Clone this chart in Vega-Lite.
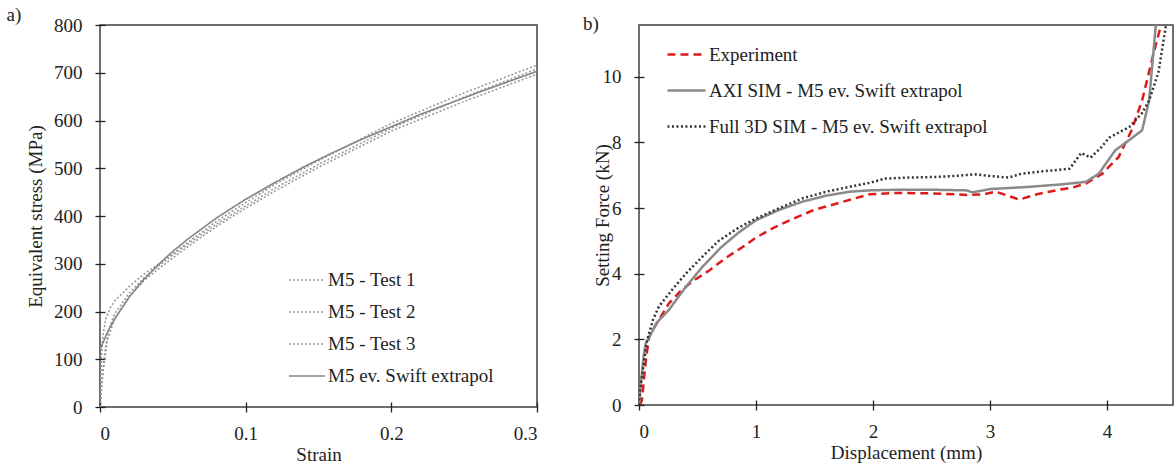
{
  "$schema": "https://vega.github.io/schema/vega-lite/v6.json",
  "background": "white",
  "padding": {"left": 5, "top": 5, "right": 0, "bottom": 0},
  "spacing": 43,
  "config": {
    "font": "Liberation Serif",
    "view": {"stroke": "#404040", "strokeWidth": 1.5},
    "axis": {
      "labelFont": "Liberation Serif", "titleFont": "Liberation Serif",
      "labelFontSize": 19, "titleFontSize": 19, "titleFontWeight": "normal",
      "labelColor": "#222", "titleColor": "#222", "domain": false, "grid": false,
      "tickColor": "#222", "tickSize": 10, "tickWidth": 1.3, "labelPadding": 13
    },
    "axisX": {"labelPadding": 12, "titlePadding": 2},
    "legend": {"labelFont": "Liberation Serif", "labelFontSize": 19, "labelColor": "#222", "labelLimit": 500},
    "title": {"font": "Liberation Serif", "fontSize": 19, "fontWeight": "normal", "anchor": "start", "color": "#222"}
  },
  "resolve": {
    "scale": {"color": "independent", "strokeDash": "independent", "strokeWidth": "independent"},
    "legend": {"color": "independent", "strokeDash": "independent", "strokeWidth": "independent"}
  },
  "hconcat": [
    {
      "title": {"text": "a)", "frame": "bounds", "dx": -20, "offset": -9},
      "width": 437,
      "height": 382,
      "data": {"values": [
        {"series": "M5 - Test 1", "x": 0, "y": 0},
        {"series": "M5 - Test 1", "x": 0.001, "y": 100},
        {"series": "M5 - Test 1", "x": 0.002, "y": 150},
        {"series": "M5 - Test 1", "x": 0.004, "y": 185},
        {"series": "M5 - Test 1", "x": 0.007, "y": 207},
        {"series": "M5 - Test 1", "x": 0.01, "y": 222},
        {"series": "M5 - Test 1", "x": 0.015, "y": 237},
        {"series": "M5 - Test 1", "x": 0.02, "y": 252},
        {"series": "M5 - Test 1", "x": 0.03, "y": 278},
        {"series": "M5 - Test 1", "x": 0.04, "y": 299},
        {"series": "M5 - Test 1", "x": 0.05, "y": 321},
        {"series": "M5 - Test 1", "x": 0.06, "y": 344},
        {"series": "M5 - Test 1", "x": 0.08, "y": 389},
        {"series": "M5 - Test 1", "x": 0.1, "y": 428},
        {"series": "M5 - Test 1", "x": 0.12, "y": 466},
        {"series": "M5 - Test 1", "x": 0.15, "y": 516},
        {"series": "M5 - Test 1", "x": 0.2, "y": 594},
        {"series": "M5 - Test 1", "x": 0.25, "y": 658},
        {"series": "M5 - Test 1", "x": 0.3, "y": 716},
        {"series": "M5 - Test 2", "x": 0, "y": 0},
        {"series": "M5 - Test 2", "x": 0.002, "y": 80},
        {"series": "M5 - Test 2", "x": 0.004, "y": 130},
        {"series": "M5 - Test 2", "x": 0.006, "y": 163},
        {"series": "M5 - Test 2", "x": 0.01, "y": 195},
        {"series": "M5 - Test 2", "x": 0.02, "y": 238},
        {"series": "M5 - Test 2", "x": 0.03, "y": 270},
        {"series": "M5 - Test 2", "x": 0.04, "y": 295},
        {"series": "M5 - Test 2", "x": 0.05, "y": 318},
        {"series": "M5 - Test 2", "x": 0.06, "y": 340},
        {"series": "M5 - Test 2", "x": 0.08, "y": 383},
        {"series": "M5 - Test 2", "x": 0.1, "y": 421},
        {"series": "M5 - Test 2", "x": 0.12, "y": 458},
        {"series": "M5 - Test 2", "x": 0.15, "y": 508},
        {"series": "M5 - Test 2", "x": 0.2, "y": 584},
        {"series": "M5 - Test 2", "x": 0.25, "y": 649},
        {"series": "M5 - Test 2", "x": 0.3, "y": 708},
        {"series": "M5 - Test 3", "x": 0, "y": 0},
        {"series": "M5 - Test 3", "x": 0.002, "y": 70},
        {"series": "M5 - Test 3", "x": 0.005, "y": 140},
        {"series": "M5 - Test 3", "x": 0.01, "y": 184},
        {"series": "M5 - Test 3", "x": 0.02, "y": 231},
        {"series": "M5 - Test 3", "x": 0.03, "y": 264},
        {"series": "M5 - Test 3", "x": 0.04, "y": 289},
        {"series": "M5 - Test 3", "x": 0.05, "y": 312},
        {"series": "M5 - Test 3", "x": 0.06, "y": 335},
        {"series": "M5 - Test 3", "x": 0.08, "y": 378},
        {"series": "M5 - Test 3", "x": 0.1, "y": 416},
        {"series": "M5 - Test 3", "x": 0.12, "y": 452},
        {"series": "M5 - Test 3", "x": 0.15, "y": 502},
        {"series": "M5 - Test 3", "x": 0.2, "y": 578},
        {"series": "M5 - Test 3", "x": 0.25, "y": 640},
        {"series": "M5 - Test 3", "x": 0.3, "y": 697},
        {"series": "M5 ev. Swift extrapol", "x": 0, "y": 120},
        {"series": "M5 ev. Swift extrapol", "x": 0.005, "y": 156},
        {"series": "M5 ev. Swift extrapol", "x": 0.01, "y": 184},
        {"series": "M5 ev. Swift extrapol", "x": 0.02, "y": 230},
        {"series": "M5 ev. Swift extrapol", "x": 0.03, "y": 267},
        {"series": "M5 ev. Swift extrapol", "x": 0.04, "y": 298},
        {"series": "M5 ev. Swift extrapol", "x": 0.05, "y": 326},
        {"series": "M5 ev. Swift extrapol", "x": 0.06, "y": 351},
        {"series": "M5 ev. Swift extrapol", "x": 0.08, "y": 396},
        {"series": "M5 ev. Swift extrapol", "x": 0.1, "y": 435},
        {"series": "M5 ev. Swift extrapol", "x": 0.12, "y": 470},
        {"series": "M5 ev. Swift extrapol", "x": 0.14, "y": 503},
        {"series": "M5 ev. Swift extrapol", "x": 0.16, "y": 533},
        {"series": "M5 ev. Swift extrapol", "x": 0.18, "y": 561},
        {"series": "M5 ev. Swift extrapol", "x": 0.2, "y": 587},
        {"series": "M5 ev. Swift extrapol", "x": 0.22, "y": 613},
        {"series": "M5 ev. Swift extrapol", "x": 0.24, "y": 636},
        {"series": "M5 ev. Swift extrapol", "x": 0.26, "y": 659},
        {"series": "M5 ev. Swift extrapol", "x": 0.28, "y": 681},
        {"series": "M5 ev. Swift extrapol", "x": 0.3, "y": 703}
      ]},
      "mark": {"type": "line", "clip": true},
      "encoding": {
        "x": {"field": "x", "type": "quantitative", "scale": {"domain": [0, 0.3], "nice": false},
              "axis": {"title": "Strain", "values": [0, 0.1, 0.2, 0.3], "format": "~g", "offset": -5}},
        "y": {"field": "y", "type": "quantitative", "scale": {"domain": [0, 800], "nice": false},
              "axis": {"title": "Equivalent stress (MPa)", "values": [0, 100, 200, 300, 400, 500, 600, 700, 800], "offset": -5, "titlePadding": 8}},
        "color": {"field": "series", "type": "nominal",
                  "scale": {"domain": ["M5 - Test 1", "M5 - Test 2", "M5 - Test 3", "M5 ev. Swift extrapol"], "range": ["#9a9a9a", "#9a9a9a", "#9a9a9a", "#858585"]},
                  "legend": {"title": null, "orient": "none", "legendX": 188, "legendY": 236, "symbolType": "stroke", "symbolSize": 1300, "rowPadding": 3, "labelOffset": 2}},
        "strokeDash": {"field": "series", "type": "nominal",
                  "scale": {"domain": ["M5 - Test 1", "M5 - Test 2", "M5 - Test 3", "M5 ev. Swift extrapol"], "range": [[2, 2], [2, 2], [2, 2], [1, 0]]},
                  "legend": {"title": null, "orient": "none", "legendX": 188, "legendY": 236, "symbolType": "stroke", "symbolSize": 1300, "rowPadding": 3, "labelOffset": 2}},
        "strokeWidth": {"field": "series", "type": "nominal",
                  "scale": {"domain": ["M5 - Test 1", "M5 - Test 2", "M5 - Test 3", "M5 ev. Swift extrapol"], "range": [1.6, 1.6, 1.6, 3]},
                  "legend": {"title": null, "orient": "none", "legendX": 188, "legendY": 236, "symbolType": "stroke", "symbolSize": 1300, "rowPadding": 3, "labelOffset": 2}}
      }
    },
    {
      "title": {"text": "b)", "frame": "bounds", "dx": -10, "offset": -9},
      "width": 534,
      "height": 380,
      "data": {"values": [
        {"series": "Experiment", "x": 0.01, "y": 0},
        {"series": "Experiment", "x": 0.025, "y": 0.15},
        {"series": "Experiment", "x": 0.04, "y": 0.7},
        {"series": "Experiment", "x": 0.06, "y": 1.4},
        {"series": "Experiment", "x": 0.085, "y": 2.05},
        {"series": "Experiment", "x": 0.12, "y": 2.3},
        {"series": "Experiment", "x": 0.18, "y": 2.65},
        {"series": "Experiment", "x": 0.256, "y": 3.1},
        {"series": "Experiment", "x": 0.35, "y": 3.45},
        {"series": "Experiment", "x": 0.45, "y": 3.75},
        {"series": "Experiment", "x": 0.6, "y": 4.1},
        {"series": "Experiment", "x": 0.75, "y": 4.5},
        {"series": "Experiment", "x": 0.9, "y": 4.85},
        {"series": "Experiment", "x": 1.0, "y": 5.1},
        {"series": "Experiment", "x": 1.15, "y": 5.4},
        {"series": "Experiment", "x": 1.3, "y": 5.65},
        {"series": "Experiment", "x": 1.5, "y": 5.95},
        {"series": "Experiment", "x": 1.7, "y": 6.15},
        {"series": "Experiment", "x": 1.97, "y": 6.42},
        {"series": "Experiment", "x": 2.2, "y": 6.46},
        {"series": "Experiment", "x": 2.5, "y": 6.45},
        {"series": "Experiment", "x": 2.82, "y": 6.4},
        {"series": "Experiment", "x": 2.95, "y": 6.42},
        {"series": "Experiment", "x": 3.05, "y": 6.5},
        {"series": "Experiment", "x": 3.15, "y": 6.38},
        {"series": "Experiment", "x": 3.25, "y": 6.26},
        {"series": "Experiment", "x": 3.4, "y": 6.42},
        {"series": "Experiment", "x": 3.56, "y": 6.54},
        {"series": "Experiment", "x": 3.7, "y": 6.62},
        {"series": "Experiment", "x": 3.82, "y": 6.75},
        {"series": "Experiment", "x": 3.96, "y": 7.05},
        {"series": "Experiment", "x": 4.1, "y": 7.56},
        {"series": "Experiment", "x": 4.21, "y": 8.37},
        {"series": "Experiment", "x": 4.3, "y": 9.28},
        {"series": "Experiment", "x": 4.39, "y": 10.6},
        {"series": "Experiment", "x": 4.47, "y": 11.7},
        {"series": "AXI SIM - M5 ev. Swift extrapol", "x": 0, "y": 0},
        {"series": "AXI SIM - M5 ev. Swift extrapol", "x": 0.02, "y": 0.8},
        {"series": "AXI SIM - M5 ev. Swift extrapol", "x": 0.04, "y": 1.5},
        {"series": "AXI SIM - M5 ev. Swift extrapol", "x": 0.057, "y": 1.88},
        {"series": "AXI SIM - M5 ev. Swift extrapol", "x": 0.085, "y": 2.05},
        {"series": "AXI SIM - M5 ev. Swift extrapol", "x": 0.15, "y": 2.5},
        {"series": "AXI SIM - M5 ev. Swift extrapol", "x": 0.256, "y": 2.9},
        {"series": "AXI SIM - M5 ev. Swift extrapol", "x": 0.4, "y": 3.6},
        {"series": "AXI SIM - M5 ev. Swift extrapol", "x": 0.54, "y": 4.2},
        {"series": "AXI SIM - M5 ev. Swift extrapol", "x": 0.7, "y": 4.8},
        {"series": "AXI SIM - M5 ev. Swift extrapol", "x": 0.85, "y": 5.25},
        {"series": "AXI SIM - M5 ev. Swift extrapol", "x": 1.0, "y": 5.63},
        {"series": "AXI SIM - M5 ev. Swift extrapol", "x": 1.2, "y": 5.95},
        {"series": "AXI SIM - M5 ev. Swift extrapol", "x": 1.4, "y": 6.2},
        {"series": "AXI SIM - M5 ev. Swift extrapol", "x": 1.6, "y": 6.38},
        {"series": "AXI SIM - M5 ev. Swift extrapol", "x": 1.8, "y": 6.5},
        {"series": "AXI SIM - M5 ev. Swift extrapol", "x": 1.97, "y": 6.54},
        {"series": "AXI SIM - M5 ev. Swift extrapol", "x": 2.2, "y": 6.56},
        {"series": "AXI SIM - M5 ev. Swift extrapol", "x": 2.5, "y": 6.56},
        {"series": "AXI SIM - M5 ev. Swift extrapol", "x": 2.8, "y": 6.54},
        {"series": "AXI SIM - M5 ev. Swift extrapol", "x": 2.85, "y": 6.48},
        {"series": "AXI SIM - M5 ev. Swift extrapol", "x": 3.0, "y": 6.58},
        {"series": "AXI SIM - M5 ev. Swift extrapol", "x": 3.3, "y": 6.64},
        {"series": "AXI SIM - M5 ev. Swift extrapol", "x": 3.6, "y": 6.72},
        {"series": "AXI SIM - M5 ev. Swift extrapol", "x": 3.82, "y": 6.8},
        {"series": "AXI SIM - M5 ev. Swift extrapol", "x": 3.93, "y": 7.05},
        {"series": "AXI SIM - M5 ev. Swift extrapol", "x": 4.07, "y": 7.76},
        {"series": "AXI SIM - M5 ev. Swift extrapol", "x": 4.2, "y": 8.1},
        {"series": "AXI SIM - M5 ev. Swift extrapol", "x": 4.3, "y": 8.37},
        {"series": "AXI SIM - M5 ev. Swift extrapol", "x": 4.36, "y": 9.28},
        {"series": "AXI SIM - M5 ev. Swift extrapol", "x": 4.42, "y": 11.7},
        {"series": "Full 3D SIM - M5 ev. Swift extrapol", "x": 0, "y": 0},
        {"series": "Full 3D SIM - M5 ev. Swift extrapol", "x": 0.01, "y": 0.5},
        {"series": "Full 3D SIM - M5 ev. Swift extrapol", "x": 0.03, "y": 0.97},
        {"series": "Full 3D SIM - M5 ev. Swift extrapol", "x": 0.05, "y": 1.5},
        {"series": "Full 3D SIM - M5 ev. Swift extrapol", "x": 0.07, "y": 1.98},
        {"series": "Full 3D SIM - M5 ev. Swift extrapol", "x": 0.12, "y": 2.6},
        {"series": "Full 3D SIM - M5 ev. Swift extrapol", "x": 0.17, "y": 3.0},
        {"series": "Full 3D SIM - M5 ev. Swift extrapol", "x": 0.28, "y": 3.5},
        {"series": "Full 3D SIM - M5 ev. Swift extrapol", "x": 0.4, "y": 4.0},
        {"series": "Full 3D SIM - M5 ev. Swift extrapol", "x": 0.55, "y": 4.55},
        {"series": "Full 3D SIM - M5 ev. Swift extrapol", "x": 0.68, "y": 5.0},
        {"series": "Full 3D SIM - M5 ev. Swift extrapol", "x": 0.85, "y": 5.4},
        {"series": "Full 3D SIM - M5 ev. Swift extrapol", "x": 1.0, "y": 5.68},
        {"series": "Full 3D SIM - M5 ev. Swift extrapol", "x": 1.2, "y": 6.0},
        {"series": "Full 3D SIM - M5 ev. Swift extrapol", "x": 1.4, "y": 6.3},
        {"series": "Full 3D SIM - M5 ev. Swift extrapol", "x": 1.6, "y": 6.5},
        {"series": "Full 3D SIM - M5 ev. Swift extrapol", "x": 1.8, "y": 6.65},
        {"series": "Full 3D SIM - M5 ev. Swift extrapol", "x": 1.97, "y": 6.77},
        {"series": "Full 3D SIM - M5 ev. Swift extrapol", "x": 2.1, "y": 6.9},
        {"series": "Full 3D SIM - M5 ev. Swift extrapol", "x": 2.3, "y": 6.93},
        {"series": "Full 3D SIM - M5 ev. Swift extrapol", "x": 2.54, "y": 6.95},
        {"series": "Full 3D SIM - M5 ev. Swift extrapol", "x": 2.7, "y": 6.98},
        {"series": "Full 3D SIM - M5 ev. Swift extrapol", "x": 2.88, "y": 7.03},
        {"series": "Full 3D SIM - M5 ev. Swift extrapol", "x": 3.0, "y": 6.98},
        {"series": "Full 3D SIM - M5 ev. Swift extrapol", "x": 3.16, "y": 6.93},
        {"series": "Full 3D SIM - M5 ev. Swift extrapol", "x": 3.27, "y": 7.05},
        {"series": "Full 3D SIM - M5 ev. Swift extrapol", "x": 3.45, "y": 7.12},
        {"series": "Full 3D SIM - M5 ev. Swift extrapol", "x": 3.68, "y": 7.2},
        {"series": "Full 3D SIM - M5 ev. Swift extrapol", "x": 3.78, "y": 7.68},
        {"series": "Full 3D SIM - M5 ev. Swift extrapol", "x": 3.86, "y": 7.54},
        {"series": "Full 3D SIM - M5 ev. Swift extrapol", "x": 3.95, "y": 7.85},
        {"series": "Full 3D SIM - M5 ev. Swift extrapol", "x": 4.02, "y": 8.15},
        {"series": "Full 3D SIM - M5 ev. Swift extrapol", "x": 4.19, "y": 8.47},
        {"series": "Full 3D SIM - M5 ev. Swift extrapol", "x": 4.3, "y": 8.9},
        {"series": "Full 3D SIM - M5 ev. Swift extrapol", "x": 4.36, "y": 9.28},
        {"series": "Full 3D SIM - M5 ev. Swift extrapol", "x": 4.44, "y": 10.15},
        {"series": "Full 3D SIM - M5 ev. Swift extrapol", "x": 4.51, "y": 11.7}
      ]},
      "mark": {"type": "line", "clip": true},
      "encoding": {
        "x": {"field": "x", "type": "quantitative", "scale": {"domain": [0, 4.564], "nice": false},
              "axis": {"title": "Displacement (mm)", "values": [0, 1, 2, 3, 4], "offset": -5}},
        "y": {"field": "y", "type": "quantitative", "scale": {"domain": [0, 11.58], "nice": false},
              "axis": {"title": "Setting Force (kN)", "values": [0, 2, 4, 6, 8, 10], "offset": -5, "titlePadding": -10}},
        "color": {"field": "series", "type": "nominal",
                  "scale": {"domain": ["Experiment", "AXI SIM - M5 ev. Swift extrapol", "Full 3D SIM - M5 ev. Swift extrapol"], "range": ["#dd1a1a", "#8a8a8a", "#333333"]},
                  "legend": {"title": null, "orient": "none", "legendX": 27, "legendY": 9, "symbolType": "stroke", "symbolSize": 1450, "rowPadding": 5, "labelOffset": 2}},
        "strokeDash": {"field": "series", "type": "nominal",
                  "scale": {"domain": ["Experiment", "AXI SIM - M5 ev. Swift extrapol", "Full 3D SIM - M5 ev. Swift extrapol"], "range": [[8, 5], [1, 0], [2, 2.5]]},
                  "legend": {"title": null, "orient": "none", "legendX": 27, "legendY": 9, "symbolType": "stroke", "symbolSize": 1450, "rowPadding": 5, "labelOffset": 2}},
        "strokeWidth": {"field": "series", "type": "nominal",
                  "scale": {"domain": ["Experiment", "AXI SIM - M5 ev. Swift extrapol", "Full 3D SIM - M5 ev. Swift extrapol"], "range": [2.5, 2.5, 1.8]},
                  "legend": {"title": null, "orient": "none", "legendX": 27, "legendY": 9, "symbolType": "stroke", "symbolSize": 1450, "rowPadding": 5, "labelOffset": 2}}
      }
    }
  ]
}
